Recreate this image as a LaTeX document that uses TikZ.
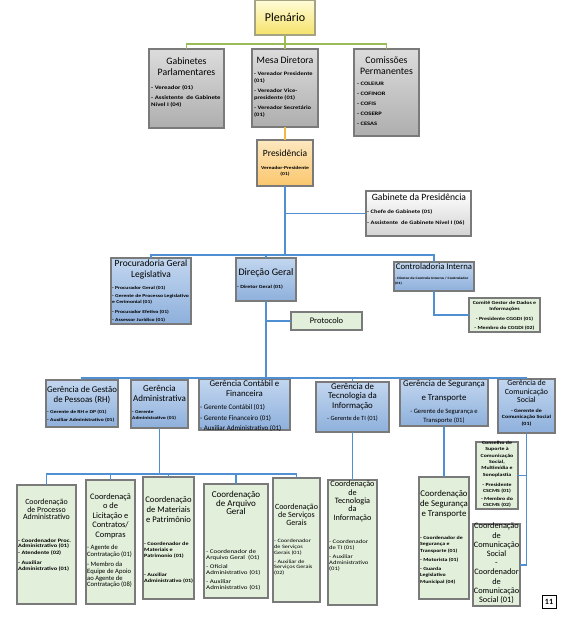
\documentclass[tikz,border=0pt]{standalone}
\usepackage{fontspec}
\setmainfont{Carlito}
\newfontfamily\dfont[FakeStretch=1.25]{Carlito}
\newcommand\fz[2]{\fontsize{#1}{#2}\selectfont}
\definecolor{lnblue}{HTML}{4F8FD2}
\definecolor{lngreen}{HTML}{9BBB59}
\definecolor{lnorange}{HTML}{F4B942}
\definecolor{bord}{HTML}{7A7A7A}
\definecolor{greenfill}{HTML}{E2EFDA}
\definecolor{bluetop}{HTML}{C2D6EF}
\definecolor{bluebot}{HTML}{8EB0DC}
\definecolor{graytop}{HTML}{DCDCDC}
\definecolor{graybot}{HTML}{AEAEAE}
\definecolor{yeltop}{HTML}{FFFCD8}
\definecolor{yelbot}{HTML}{F5E26A}
\definecolor{ortop}{HTML}{FDE8C0}
\definecolor{orbot}{HTML}{FAC66C}
\newcommand\bx[6]{\node[#6, minimum width={(#4-#2)*1pt}, minimum height={(#5-#3)*1pt}] (#1) at ({(#2+#4)/2},{(#3+#5)/2}) {};}
\tikzset{
  box/.style={draw=bord, line width=1.2pt, inner sep=0pt, outer sep=0pt},
  bluebox/.style={box, top color=bluetop, bottom color=bluebot},
  graybox/.style={box, line width=1.6pt, top color=graytop, bottom color=graybot},
  wgbox/.style={box, top color=white, bottom color=graytop!90!gray},
  yelbox/.style={box, draw=gray!80!yellow, top color=yeltop, bottom color=yelbot},
  orbox/.style={box, top color=ortop, bottom color=orbot},
  grbox/.style={box, fill=greenfill},
  pgbox/.style={draw=black, line width=0.8pt, inner sep=0pt, outer sep=0pt, fill=white},
  conn/.style={draw=lnblue, line width=1.1pt},
  gconn/.style={draw=lngreen, line width=1.1pt},
  oconn/.style={draw=lnorange, line width=1.1pt},
  ttl/.style={inner sep=0pt, align=center},
  dl/.style={inner sep=0pt, align=left, anchor=north west},
  dc/.style={inner sep=0pt, align=center, anchor=north}
}
\begin{document}
\begin{tikzpicture}[x=1pt,y=-1pt]
\useasboundingbox (0,0) rectangle (566,622);
\fill[white] (0,0) rectangle (566,622);
% boxes
\bx{plen}{255}{0}{315}{35}{yelbox}
\bx{gab}{149}{49}{224}{128}{graybox}
\bx{mesa}{252}{49}{318}{127}{graybox}
\bx{comis}{354}{49}{419}{136}{graybox}
\bx{pres}{257}{140}{313}{186}{orbox}
\bx{gp}{366}{191}{471}{236}{wgbox}
\bx{proc}{111}{258}{191}{324}{bluebox}
\bx{dir}{236}{258}{296}{301}{bluebox}
\bx{ctrl}{394}{262}{474}{291}{bluebox}
\bx{comite}{469}{298}{540}{332}{grbox}
\bx{prot}{291}{312}{362}{330}{grbox}
\bx{rh}{46}{380}{118}{427}{bluebox}
\bx{adm}{131}{380}{188}{428}{bluebox}
\bx{cont}{199}{379}{290}{430}{bluebox}
\bx{ti}{316}{382}{389}{432}{bluebox}
\bx{seg}{400}{379}{488}{426}{bluebox}
\bx{gcom}{498}{379}{555}{433}{bluebox}
\bx{cproc}{17}{485}{76}{604}{grbox}
\bx{clic}{86}{480}{135}{604}{grbox}
\bx{cmat}{143}{477}{194}{599}{grbox}
\bx{carq}{204}{484}{268}{598}{grbox}
\bx{cserv}{273}{478}{320}{602}{grbox}
\bx{cti}{328}{480}{377}{605}{grbox}
\bx{cseg}{419}{477}{469}{599}{grbox}
\bx{cons}{476}{442}{518}{509}{grbox}
\bx{ccom}{473}{524}{520}{606}{grbox}
\bx{pg}{542}{595}{556}{608}{pgbox}
% bars
\coordinate (gbar) at (0,44);
\coordinate (hb) at (0,255);
\coordinate (gb) at (0,378);
\coordinate (cb) at (0,474);
% connectors
\draw[gconn] (plen.south) -- (mesa.north);
\draw[gconn] (gab.north) -- (gab.north |- gbar) -- (comis.north |- gbar) -- (comis.north);
\draw[oconn] (mesa.south) -- (pres.north);
\draw[conn] (pres.south) -- (pres.south |- hb);
\draw[conn] (pres.south |- gp.west) -- (gp.west);
\draw[conn] (proc.north) -- (proc.north |- hb) -- (ctrl.north |- hb) -- (ctrl.north);
\draw[conn] (dir.north |- hb) -- (dir.north);
\draw[conn] (ctrl.south) |- (comite.west);
\draw[conn] (dir.south) -- (dir.south |- gb);
\draw[conn] (dir.south |- prot.west) -- (prot.west);
\draw[conn] (rh.north) -- (rh.north |- gb) -- (gcom.north |- gb) -- (gcom.north);
\draw[conn] (adm.north |- gb) -- (adm.north);
\draw[conn] (cont.north |- gb) -- (cont.north);
\draw[conn] (ti.north |- gb) -- (ti.north);
\draw[conn] (seg.north |- gb) -- (seg.north);
\draw[conn] (adm.south) -- (adm.south |- cb);
\draw[conn] (cproc.north) -- (cproc.north |- cb) -- (cserv.north |- cb) -- (cserv.north);
\draw[conn] (clic.north |- cb) -- (clic.north);
\draw[conn] (cmat.north |- cb) -- (cmat.north);
\draw[conn] (carq.north |- cb) -- (carq.north);
\draw[conn] (ti.south) -- (cti.north);
\draw[conn] (seg.south) -- (cseg.north);
\draw[conn] (gcom.south) -- (gcom.south |- ccom.east) -- (ccom.east);
\draw[conn] (gcom.south |- cons.east) -- (cons.east);
% texts
\node[ttl,font=\fz{12}{14}] (t-plen) at (285,17.5) {Plenário};
\node[ttl,anchor=north,font=\fz{9.8}{11}] (t-gab) at (186.5,57) {Gabinetes\\Parlamentares};
\node[dl,font=\dfont\bfseries\fz{5.4}{7.5}] (d-gab) at (151,85) {- Vereador (01)\\[2.5pt]- Assistente\ \ de Gabinete\\Nível I (04)};
\node[ttl,anchor=north,font=\fz{9.8}{11}] (t-mesa) at (285,57) {Mesa Diretora};
\node[dl,font=\dfont\bfseries\fz{5.2}{7}] (d-mesa) at (254,72) {- Vereador Presidente\\(01)\\[3pt]- Vereador Vice-\\presidente (01)\\[3pt]- Vereador Secretário\\(01)};
\node[ttl,anchor=north,font=\fz{9.8}{10.5}] (t-com) at (386.5,57) {Comissões\\Permanentes};
\node[dl,font=\dfont\bfseries\fz{5.2}{10}] (d-com) at (357,82) {- COLEIUR\\- COFINOR\\- COFIS\\- COSERP\\- CESAS};
\node[ttl,anchor=north,font=\fz{9.5}{11}] (t-pres) at (285,149.5) {Presidência};
\node[dc,font=\dfont\bfseries\fz{4.5}{5.7}] (d-pres) at (285,166) {Vereador-Presidente\\(01)};
\node[ttl,anchor=north,font=\fz{9.6}{11}] (t-gp) at (419,194) {Gabinete da Presidência};
\node[dl,font=\dfont\bfseries\fz{5.2}{11}] (d-gp) at (367,209.5) {- Chefe de Gabinete (01)\\- Assistente\ \ de Gabinete Nível I (06)};
\node[ttl,anchor=north,font=\fz{9.5}{11}] (t-proc) at (151,259.5) {Procuradoria Geral\\Legislativa};
\node[dl,font=\dfont\bfseries\fz{4.5}{6.3}] (d-proc) at (112,285.8) {- Procurador Geral (01)\\[1.7pt]- Gerente de Processo Legislativo\\e Cerimonial (01)\\[3.7pt]- Procurador Efetivo (01)\\[1.7pt]- Assessor Jurídico (01)};
\node[ttl,anchor=north,font=\fz{10}{11}] (t-dir) at (266,268.5) {Direção Geral};
\node[dl,font=\dfont\bfseries\fz{4.7}{6}] (d-dir) at (237,284.6) {- Diretor Geral (01)};
\node[ttl,anchor=north,font=\fz{8.7}{10}] (t-ctrl) at (434,263) {Controladoria Interna};
\node[dl,font=\dfont\bfseries\fz{3.3}{4.5}] (d-ctrl) at (395,277.3) {- Diretor de Controle Interno / Controlador\\(01)};
\node[dc,font=\dfont\bfseries\fz{4.7}{6}] (d-comite) at (504.5,300.6) {Comitê Gestor de Dados e\\Informações\\[4pt]- Presidente CGGDI (01)\\[3pt]- Membro do CGGDI (02)};
\node[ttl,font=\fz{8.5}{10}] (t-prot) at (326.5,321) {Protocolo};
\node[ttl,anchor=north,font=\fz{8.8}{10}] (t-rh) at (82,385.7) {Gerência de Gestão\\de Pessoas (RH)};
\node[dl,font=\dfont\bfseries\fz{4.5}{8}] (d-rh) at (47,409.5) {- Gerente de RH e DP (01)\\- Auxiliar Administrativo (01)};
\node[ttl,anchor=north,font=\fz{9}{9.5}] (t-adm) at (159.5,385.5) {Gerência\\Administrativa};
\node[dl,font=\dfont\bfseries\fz{4.4}{6}] (d-adm) at (132,410.5) {- Gerente\\Administrativo (01)};
\node[ttl,anchor=north,font=\fz{8.8}{10}] (t-cont) at (244.5,379.7) {Gerência Contábil e\\Financeira};
\node[dl,font=\fz{7}{10.3}] (d-cont) at (200,404.5) {- Gerente Contábil (01)\\- Gerente Financeiro (01)\\- Auxiliar Administrativo (01)};
\node[ttl,anchor=north,font=\fz{8.8}{9.5}] (t-ti) at (352.5,383) {Gerência de\\Tecnologia da\\Informação};
\node[dc,font=\fz{6.4}{8}] (d-ti) at (352.5,415.8) {- Gerente de TI (01)};
\node[ttl,anchor=north,font=\fz{8.8}{10}] (t-seg) at (444,380) {Gerência de Segurança\\[4.5pt]e Transporte};
\node[dc,font=\fz{6.6}{8.5}] (d-seg) at (444,409) {- Gerente de Segurança e\\Transporte (01)};
\node[ttl,anchor=north,font=\fz{7.9}{8.6}] (t-gcom) at (526.5,379.8) {Gerência de\\Comunicação\\Social};
\node[dc,font=\dfont\bfseries\fz{4.8}{6.8}] (d-gcom) at (526.5,408.5) {- Gerente de\\Comunicação Social\\(01)};
\node[ttl,anchor=north,font=\fz{7.9}{7.7}] (t-cproc) at (46.5,498.8) {Coordenação\\de Processo\\Administrativo};
\node[dl,font=\dfont\bfseries\fz{5.1}{5.7}] (d-cproc) at (18,538.5) {- Coordenador Proc.\\Administrativo (01)\\[1.3pt]- Atendente (02)\\[4.3pt]- Auxiliar\\Administrativo (01)};
\node[ttl,anchor=north,font=\fz{8.4}{9.5}] (t-clic) at (110.5,493) {Coordenaçã\\o de\\Licitação e\\Contratos/\\Compras};
\node[dl,font=\fz{6.6}{6.7}] (d-clic) at (87,544.7) {- Agente de\\Contratação (01)\\[4pt]- Membro da\\Equipe de Apoio\\ao Agente de\\Contratação (08)};
\node[ttl,anchor=north,font=\fz{8.6}{10}] (t-cmat) at (168.5,496) {Coordenação\\de Materiais\\e Patrimônio};
\node[dl,font=\dfont\bfseries\fz{4.9}{6}] (d-cmat) at (144,541.5) {- Coordenador de\\Materiais e\\Patrimonio (01)\\[13pt]- Auxiliar\\Administrativo (01)};
\node[ttl,anchor=north,font=\fz{9}{8.7}] (t-carq) at (236,491) {Coordenação\\de Arquivo\\Geral};
\node[dl,font=\dfont\fz{5.6}{6.2}] (d-carq) at (206,549) {- Coordenador de\\Arquivo Geral\ \ (01)\\[2.8pt]- Oficial\\Administrativo (01)\\[2.8pt]- Auxiliar\\Administrativo (01)};
\node[ttl,anchor=north,font=\fz{8}{8.2}] (t-cserv) at (296.5,503.5) {Coordenação\\de Serviços\\Gerais};
\node[dl,font=\dfont\fz{5}{5.6}] (d-cserv) at (274,539.2) {- Coordenador\\de Serviços\\Gerais (01)\\[3.5pt]- Auxiliar de\\Serviços Gerais\\(02)};
\node[ttl,anchor=north,font=\fz{8.2}{8.3}] (t-cti) at (352.5,481) {Coordenação\\de\\Tecnologia\\da\\Informação};
\node[dl,font=\dfont\fz{5.3}{6}] (d-cti) at (329,539.3) {- Coordenador\\de TI (01)\\[3pt]- Auxiliar\\Administrativo\\(01)};
\node[ttl,anchor=north,font=\fz{8.8}{10}] (t-cseg) at (444,489.7) {Coordenação\\de Segurança\\e Transporte};
\node[dl,font=\dfont\bfseries\fz{4.7}{6.5}] (d-cseg) at (420,535.5) {- Coordenador de\\Segurança e\\Transporte (01)\\[2.5pt]- Motorista (01)\\[2.5pt]- Guarda\\Legislativo\\Municipal (04)};
\node[dc,font=\dfont\bfseries\fz{4.7}{6.4}] (d-cons) at (497,440.7) {Conselho de\\Suporte à\\Comunicação\\Social,\\Multimídia e\\Sonoplastia\\[3.5pt]- Presidente\\CSCMS (01)\\[1.5pt]- Membro do\\CSCMS (02)};
\node[dc,font=\fz{8.3}{9.2}] (d-ccom) at (496.5,523) {Coordenação\\de\\Comunicação\\Social\\-\\Coordenador\\de\\Comunicação\\Social (01)};
\node[font=\fz{8}{9}\bfseries] (t-pg) at (549,601.5) {11};
\end{tikzpicture}
\end{document}
